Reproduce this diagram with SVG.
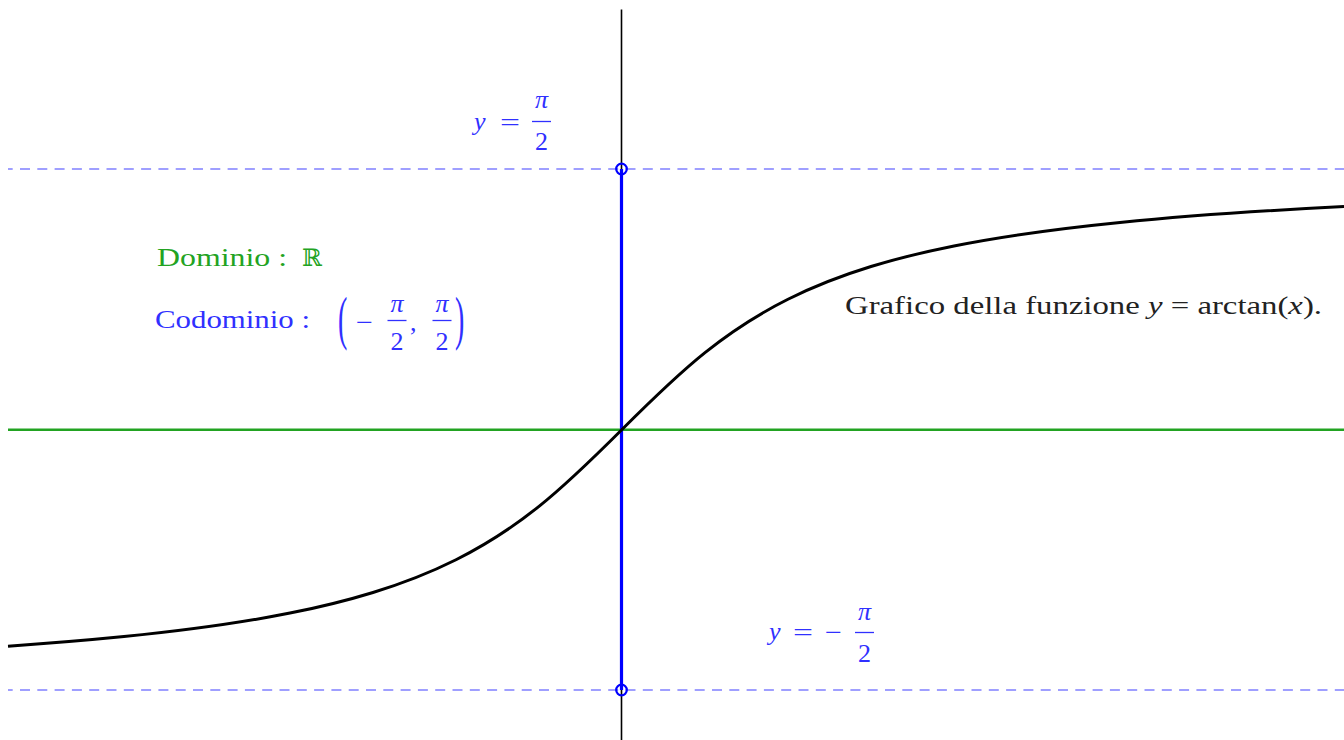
<svg xmlns="http://www.w3.org/2000/svg" width="1344" height="740" viewBox="0 0 1344 740">
<style>
.t{font-family:"Liberation Serif","DejaVu Serif",serif;font-size:25px}
.m{font-family:"Liberation Serif","DejaVu Serif",serif;font-size:26px}
.it{font-style:italic}
.blue{fill:#3030ff}
.green{fill:#22a322}
.black{fill:#222}
.dash{stroke:#8080ff;stroke-width:1.6;stroke-dasharray:10 7.3;fill:none}
.bar{stroke:#3030ff;stroke-width:1.3}
.pt{fill:none;stroke:#0000ff;stroke-width:2.2}
</style>
<rect width="1344" height="740" fill="#fff"/>
<g id="connectors">
  <line id="asym-top" class="dash" x1="8" y1="169" x2="1344" y2="169" stroke-dashoffset="5.3"/>
  <line id="asym-bottom" class="dash" x1="8" y1="690" x2="1344" y2="690" stroke-dashoffset="5.3"/>
  <line id="x-axis" x1="8" y1="429.7" x2="1344" y2="429.7" stroke="#22a322" stroke-width="2.4"/>
  <line id="y-axis" x1="621.5" y1="9.5" x2="621.5" y2="740" stroke="#000" stroke-width="1.6"/>
  <line id="range" x1="621.5" y1="169" x2="621.5" y2="690" stroke="#0000ff" stroke-width="3.2"/>
  <circle class="pt" cx="621.5" cy="169" r="5.3"/>
  <circle class="pt" cx="621.5" cy="690" r="5.3"/>
  <path id="curve" fill="none" stroke="#000" stroke-width="3" d="M8,646.16 C46.67,643.53 85.33,640.45 124,636.59 C179.33,631.06 234.67,624.12 290,613.07 C317.67,607.54 345.33,600.95 373,592.45 C400.67,583.95 428.33,573.54 456,559.72 C483.67,545.9 511.33,528.48 539,506.37 C566.67,484.26 594.33,457.13 622,429.5 C649.67,401.87 677.33,374.74 705,352.63 C732.67,330.52 760.33,313.1 788,299.28 C815.67,285.46 843.33,275.05 871,266.55 C898.67,258.05 926.33,251.46 954,245.93 C1009.33,234.88 1064.67,227.94 1120,222.41 C1194.64,214.96 1269.29,210.28 1344,206.54"/>
</g>
<g id="label-top">
  <text class="m blue it" x="474" y="130">y</text>
  <text class="m blue" x="500" y="131" textLength="20" lengthAdjust="spacingAndGlyphs">=</text>
  <text class="m blue it" x="541.5" y="108" text-anchor="middle">π</text>
  <line class="bar" x1="532" y1="121.5" x2="551" y2="121.5"/>
  <text class="m blue" x="541.5" y="150" text-anchor="middle">2</text>
</g>
<g id="label-bottom">
  <text class="m blue it" x="769" y="640">y</text>
  <text class="m blue" x="793" y="641" textLength="20" lengthAdjust="spacingAndGlyphs">=</text>
  <text class="m blue" x="825" y="641" textLength="17" lengthAdjust="spacingAndGlyphs">−</text>
  <text class="m blue it" x="864.5" y="620" text-anchor="middle">π</text>
  <line class="bar" x1="855" y1="632.5" x2="874" y2="632.5"/>
  <text class="m blue" x="864.5" y="662" text-anchor="middle">2</text>
</g>
<g id="dominio">
  <text class="t green" x="157" y="266" textLength="130" lengthAdjust="spacingAndGlyphs">Dominio :</text>
  <text class="green" x="302" y="266" style="font-family:'DejaVu Serif',serif;font-size:24px">ℝ</text>
</g>
<g id="codominio">
  <text class="t blue" x="155" y="328" textLength="155" lengthAdjust="spacingAndGlyphs">Codominio :</text>
  <text class="blue" transform="translate(338,338) scale(1,2.1)" style="font-family:'Liberation Serif',serif;font-size:28px">(</text>
  <text class="m blue" x="356" y="331" textLength="17" lengthAdjust="spacingAndGlyphs">−</text>
  <text class="m blue it" x="397" y="312" text-anchor="middle">π</text>
  <line class="bar" x1="387.5" y1="320.5" x2="406.5" y2="320.5"/>
  <text class="m blue" x="397" y="350" text-anchor="middle">2</text>
  <text class="m blue" x="410" y="331">,</text>
  <text class="m blue it" x="442" y="312" text-anchor="middle">π</text>
  <line class="bar" x1="432.5" y1="320.5" x2="451.5" y2="320.5"/>
  <text class="m blue" x="442" y="350" text-anchor="middle">2</text>
  <text class="blue" transform="translate(455,338) scale(1,2.1)" style="font-family:'Liberation Serif',serif;font-size:28px">)</text>
</g>
<g id="title">
  <text class="t black" x="845" y="314" textLength="477" lengthAdjust="spacingAndGlyphs">Grafico della funzione <tspan class="it">y</tspan> = arctan(<tspan class="it">x</tspan>).</text>
</g>
</svg>
